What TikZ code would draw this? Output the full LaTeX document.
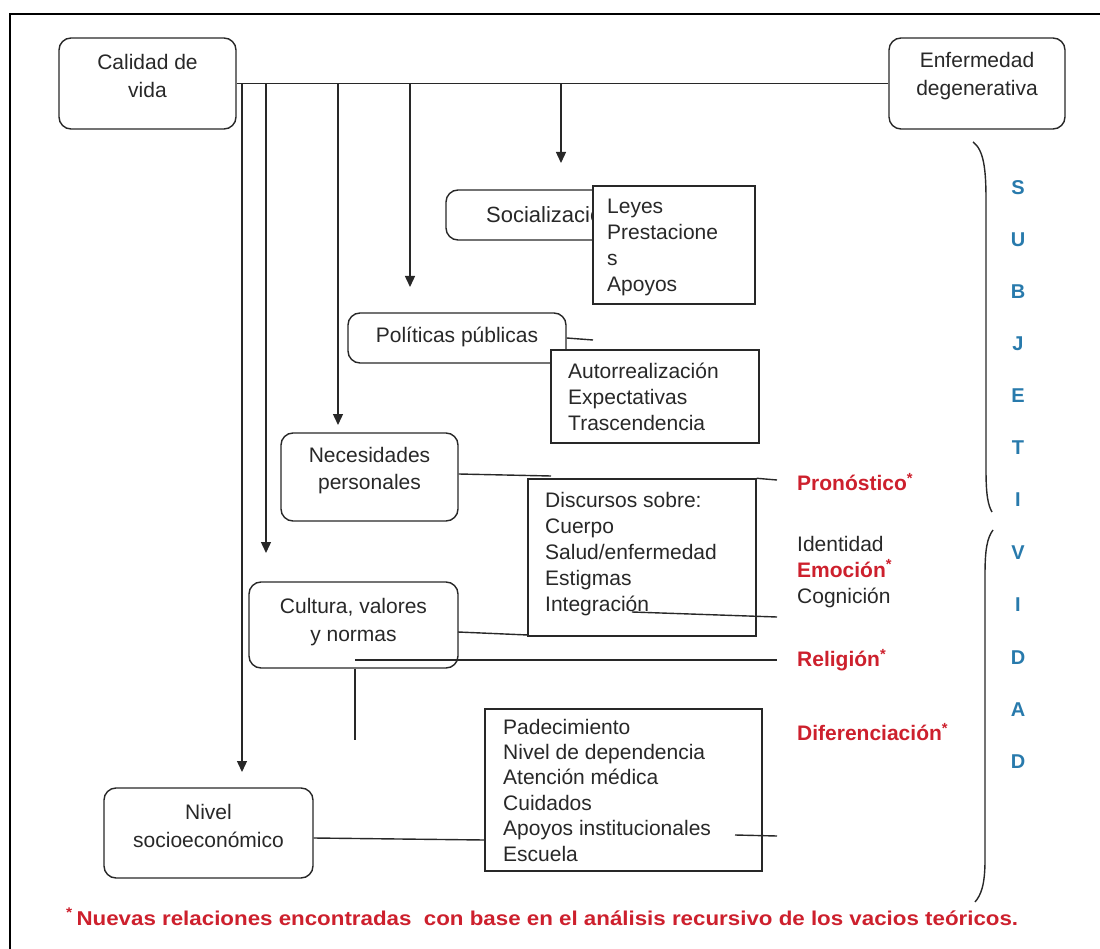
\documentclass[tikz,border=0pt]{standalone}
\usepackage{fontspec}
\setmainfont{Liberation Sans}
\usetikzlibrary{arrows.meta}
\definecolor{inkc}{RGB}{40,40,40}
\definecolor{redc}{RGB}{205,32,45}
\definecolor{bluec}{RGB}{40,122,172}
\begin{document}
\begin{tikzpicture}[x=1pt,y=-1pt,
  rbox/.style={draw=inkc, line width=1.4pt, rounded corners=12pt, fill=white, inner sep=0pt},
  sbox/.style={draw=inkc, line width=1.4pt, fill=white, inner sep=0pt},
  body/.style={font=\fontsize{21}{26}\selectfont, text=inkc, inner sep=0pt},
  redl/.style={font=\fontsize{21}{26}\selectfont\bfseries, text=redc, inner sep=0pt, anchor=west},
  subj/.style={font=\fontsize{20}{24}\selectfont\bfseries, text=bluec, inner sep=0pt},
  conn/.style={draw=inkc, line width=1.4pt},
  arr/.style={conn, -{Triangle[width=10pt,length=11pt]}},
  frame/.style={draw=black, line width=2pt}
]
\useasboundingbox (0,0) rectangle (1100,949);

% outer frame (top and left edges)
\draw[frame] (10,949) -- (10,14) -- (1100,14);

% top row
\node[rbox, minimum width=177pt, minimum height=91pt] (cal) at (147.5,83.5) {};
\node[body, align=center, font=\fontsize{21}{28}\selectfont] (calT) at (147.5,76) {Calidad de\\vida};
\node[rbox, minimum width=176pt, minimum height=91pt] (enf) at (977,83.5) {};
\node[body, align=center, font=\fontsize{21}{28}\selectfont] (enfT) at (977,76) {Enfermedad\\degenerativa};
\draw[conn] (cal.east) -- (enf.west);

% branches hanging from the main line
\coordinate (j1) at (242,83.5);  \coordinate (e1) at (242,772);
\coordinate (j2) at (266,83.5);  \coordinate (e2) at (266,553);
\coordinate (j3) at (338,83.5);  \coordinate (e3) at (338,425);
\coordinate (j4) at (410,83.5);  \coordinate (e4) at (410,287);
\coordinate (j5) at (561,83.5);  \coordinate (e5) at (561,163);
\foreach \k in {1,...,5} \draw[arr] (j\k) -- (e\k);

% Socializacion and its list
\node[rbox, minimum width=195pt, minimum height=50pt] (soc) at (543.5,215) {};
\node[body, anchor=west, font=\fontsize{22}{26}\selectfont] (socT) at (486,215) {Socialización};
\node[sbox, minimum width=162pt, minimum height=118pt] (ley) at (674,245) {};
\node[body, align=left, anchor=west] (leyT) at (607,247) {Leyes\\Prestacione\\s\\Apoyos};

% Politicas publicas
\node[rbox, minimum width=218pt, minimum height=50pt] (pol) at (457,338) {};
\node[body] (polT) at (457,337) {Políticas públicas};
\coordinate (polS) at (593,340);
\draw[conn] (pol.east) -- (polS);
\node[sbox, minimum width=208pt, minimum height=93pt] (aut) at (655,396.5) {};
\node[body, align=left, anchor=west] (autT) at (568,397) {Autorrealización\\Expectativas\\Trascendencia};

% Necesidades personales
\node[rbox, minimum width=177pt, minimum height=88pt] (nec) at (369.5,477) {};
\node[body, align=center, font=\fontsize{21}{27}\selectfont] (necT) at (369.5,471) {Necesidades\\personales};
\coordinate (necS) at (551,476);
\draw[conn] (nec.east |- 0,474) -- (necS);

% Discursos
\node[sbox, minimum width=228pt, minimum height=157pt] (dis) at (642,557.5) {};
\node[body, align=left, anchor=west] (disT) at (545,554) {Discursos sobre:\\Cuerpo\\Salud/enfermedad\\Estigmas\\Integración};
\coordinate (pronS) at (777,480);
\draw[conn] (dis.north east) -- (pronS);
\coordinate (intA) at (632,612);
\coordinate (intB) at (777,617);
\draw[conn] (intA) -- (intB);

% labels on the right
\node[redl] (pron) at (797,482) {Pronóstico\textsuperscript{*}};
\node[body, align=left, anchor=west] (idT) at (797,572) {Identidad\\\textcolor{redc}{\bfseries Emoción\textsuperscript{*}}\\Cognición};
\node[redl] (reli) at (797,660) {Religión\textsuperscript{*}};
\node[redl] (dife) at (797,732) {Diferenciación\textsuperscript{*}};

% Cultura, valores y normas
\node[rbox, minimum width=209pt, minimum height=86pt] (cul) at (353.5,625) {};
\node[body, align=center, font=\fontsize{21}{28}\selectfont] (culT) at (353.5,622) {Cultura, valores\\y normas};
\coordinate (culE) at (458,632);
\coordinate (disW) at (528,635);
\draw[conn] (culE) -- (disW);
\coordinate (relA) at (355,660);
\coordinate (relB) at (777,660);
\draw[conn] (relA) -- (relB);
\coordinate (culD) at (355,740);
\draw[conn] (cul.south -| culD) -- (culD);

% Padecimiento list
\node[sbox, minimum width=277pt, minimum height=162pt] (pad) at (623.5,790) {};
\node[body, align=left, anchor=west, font=\fontsize{21}{25.4}\selectfont] (padT) at (503,790) {Padecimiento\\Nivel de dependencia\\Atención médica\\Cuidados\\Apoyos institucionales\\Escuela};
\coordinate (apA) at (735,835);
\coordinate (apB) at (777,836);
\draw[conn] (apA) -- (apB);

% Nivel socioeconomico
\node[rbox, minimum width=209pt, minimum height=90pt] (niv) at (208.5,833) {};
\node[body, align=center, font=\fontsize{21}{28}\selectfont] (nivT) at (208.5,826) {Nivel\\socioeconómico};
\draw[conn] (niv.east |- 0,838) -- (pad.west |- 0,840);

% brace on the right
\draw[conn] (973,142) .. controls (984,150) and (986,170) .. (986,200)
  -- (986,470) .. controls (986,495) and (988,505) .. (992,512);
\draw[conn] (993,530) .. controls (987,538) and (985,550) .. (985,575)
  -- (985,860) .. controls (985,885) and (981,895) .. (975,902);

% vertical word
\foreach \l/\yy [count=\k] in {S/188,U/240,B/292,J/344,E/396,T/448,I/500,V/553,I/605,D/658,A/710,D/762}
  \node[subj] (L\k) at (1018,\yy) {\l};

% footnote
\node[anchor=west, inner sep=0pt, text=redc, font=\fontsize{20}{24}\selectfont\bfseries] (foot) at (66,917)
  {\resizebox{952pt}{\height}{\textsuperscript{*}\,Nuevas relaciones encontradas \ con base en el análisis recursivo de los vacios teóricos.}};
\end{tikzpicture}
\end{document}
